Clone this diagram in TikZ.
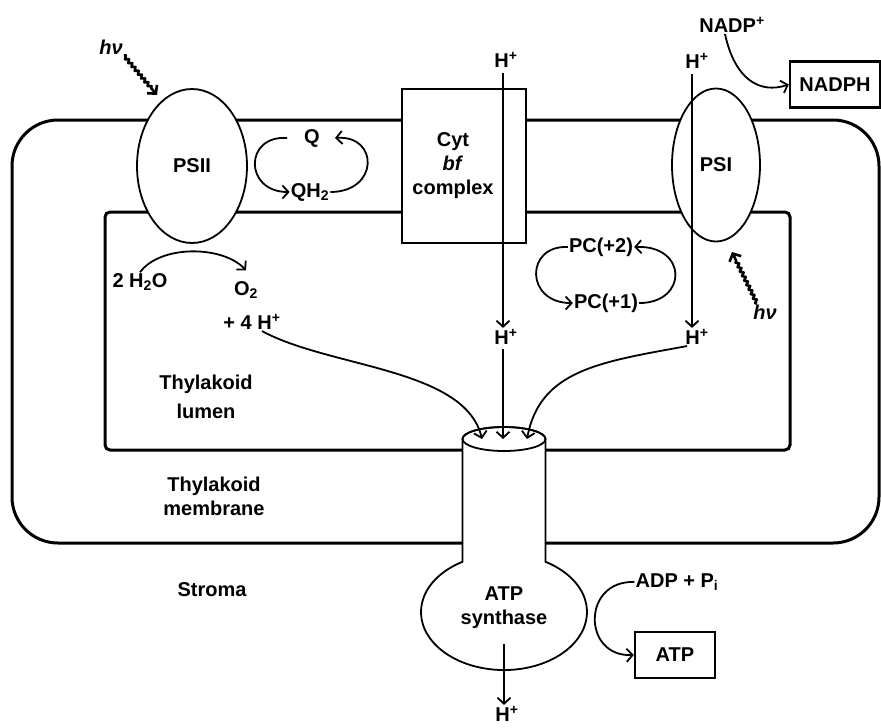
\documentclass[tikz,border=0pt]{standalone}
\usepackage{fontspec}
\setmainfont{Liberation Sans}
\usetikzlibrary{arrows.meta,positioning,shapes.geometric,decorations.pathmorphing}

\begin{document}
\begin{tikzpicture}[
  x=1pt, y=-1pt,
  font=\fontsize{20}{24}\selectfont\bfseries,
  >={Straight Barb[length=6pt,width=13pt]},
  arrow/.style={->, line width=1.8pt},
  photon/.style={->, line width=2.6pt, line join=round, decorate,
    decoration={zigzag, segment length=5pt, amplitude=1.5pt, post=lineto, post length=9pt}},
  membrane/.style={draw=black, line width=3pt},
  complexshape/.style={draw, ellipse, fill=white, line width=1.8pt, inner sep=0pt},
  cytbox/.style={draw, fill=white, line width=1.8pt, minimum width=124pt, minimum height=154pt},
  product/.style={draw, line width=2.4pt, minimum height=46pt, inner sep=0pt},
  tag/.style={align=center, inner sep=1pt},
  proton/.style={inner sep=1pt}
]

\useasboundingbox[fill=white] (0,0) rectangle (881,728);

\draw[membrane, rounded corners=46pt] (12,120) rectangle (879,543);
\draw[membrane, rounded corners=5pt] (105,212) rectangle (790,450);

\node[complexshape, minimum width=110pt, minimum height=154pt] (psii) at (192,166) {PSII};
\node[complexshape, minimum width=88pt, minimum height=153pt] (psi) at (716,165) {PSI};
\node[cytbox] (cytbf) at (464,166) {};
\node[tag] (cyt) at (453,166) {Cyt\\\textit{bf}\\complex};

\filldraw[fill=white, line width=1.8pt] (462.5,439) -- (462.5,561.8)
  arc[start angle=240, end angle=-60, x radius=83, y radius=58] -- (545.5,439)
  arc[start angle=0, end angle=-180, x radius=41.5, y radius=12] -- cycle;
\draw[line width=1.8pt] (504,439) ellipse [x radius=41.5, y radius=12];
\coordinate (atptop) at (504,439);
\node[tag] (synth) at (504,608) {ATP\\synthase};

\node[proton] (hvpsii) at (111,47) {\itshape hν};
\coordinate (psiilight) at (157,95);
\node[proton] (hvpsi) at (765,312) {\itshape hν};
\coordinate (psilight) at (732,252);

\node[tag] (q) at (312,138) {Q};
\node[tag] (qh) at (310,192) {QH\textsubscript{2}};
\node[tag] (water) at (140,282) {2 H\textsubscript{2}O};
\node[tag] (otwo) at (246,290) {O\textsubscript{2}};
\node[tag] (fourh) at (252,322) {+ 4 H\textsuperscript{+}};
\node[tag] (pctwo) at (601,247) {PC(+2)};
\node[tag, below=35pt of pctwo, xshift=5pt] (pcone) {PC(+1)};

\node[proton] (hcyttop) at (506,60) {H\textsuperscript{+}};
\node[proton] (hpsitop) at (697,61) {H\textsuperscript{+}};
\node[proton] (hcytlum) at (506,337) {H\textsuperscript{+}};
\node[proton] (hpsilum) at (697,337) {H\textsuperscript{+}};
\node[proton] (hout) at (507,714) {H\textsuperscript{+}};

\node[tag] (nadp) at (732,25) {NADP\textsuperscript{+}};
\node[product, minimum width=90pt] (nadph) at (835,84.5) {NADPH};
\node[tag] (adp) at (677,582) {ADP + P\textsubscript{i}};
\node[product, minimum width=80pt] (atp) at (675,655) {ATP};

\node[tag] (lumen) at (206,397) {Thylakoid\\[5pt]lumen};
\node[tag] (membr) at (214,496) {Thylakoid\\membrane};
\node[tag] (stroma) at (212,590) {Stroma};

\draw[photon] (hvpsii.south east) -- (psiilight);
\draw[photon] ([xshift=-8pt]hvpsi.north) -- (psilight);
\draw[arrow] ([xshift=-16pt]q.west) .. controls (244,135) and (244,192) .. (qh.west);
\draw[arrow] (qh.east) .. controls (379,192) and (379,135) .. ([xshift=14pt]q.east);
\draw[arrow] (water.north) .. controls (160,245) and (222,245) .. ([yshift=10pt]otwo.north);
\draw[arrow] (pctwo.west) .. controls (525,245) and (525,303) .. (pcone.west);
\draw[arrow] (pcone.east) .. controls (688,303) and (688,245) .. (pctwo.east);
\draw[arrow] ([xshift=-7pt]nadp.south) .. controls (735,80) and (760,94) .. (nadph.west);
\draw[arrow] (adp.west) .. controls (582,580) and (582,657) .. (atp.west);
\draw[arrow, shorten <=4pt] ([xshift=-3pt]hcyttop.south) -- ([xshift=-3pt]hcytlum.north);
\draw[arrow, shorten <=3pt] ([xshift=-3pt]hcytlum.south) -- ([xshift=-1pt]atptop);
\draw[arrow, shorten <=4pt] ([xshift=-5pt]hpsitop.south) -- ([xshift=-5pt]hpsilum.north);
\draw[arrow] ([xshift=10pt]fourh.south) .. controls (330,368) and (465,368) .. ([xshift=-22pt]atptop);
\draw[arrow] ([xshift=-10pt]hpsilum.south) .. controls (600,362) and (540,370) .. ([xshift=23pt]atptop);
\draw[arrow] ([xshift=-3pt,yshift=-14pt]hout.north |- synth.south) -- ([xshift=-3pt]hout.north);

\end{tikzpicture}
\end{document}
